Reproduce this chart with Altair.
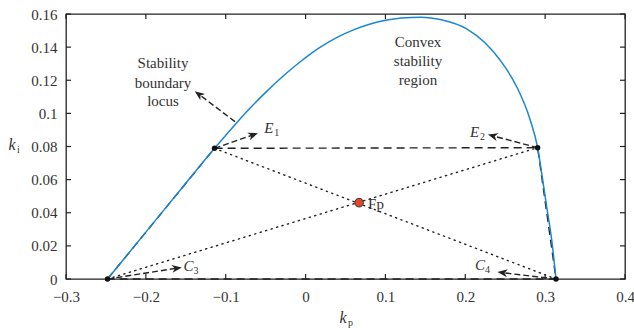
import math
import altair as alt
import pandas as pd

# ---------------- data ----------------
curve_kp = [-0.248, -0.2, -0.15, -0.114, -0.09, -0.07, -0.05, -0.028, -0.007, 0.018,
            0.04, 0.06, 0.08, 0.10, 0.12, 0.145, 0.17, 0.2017, 0.225, 0.2435,
            0.2644, 0.281, 0.2906, 0.2957, 0.3019, 0.3082, 0.3136]
curve_ki = [0.0, 0.0283, 0.0578, 0.0789, 0.0923, 0.1029, 0.1127, 0.1226, 0.1310, 0.1398,
            0.1460, 0.1504, 0.1538, 0.1562, 0.1576, 0.1581, 0.1565, 0.1510, 0.1425, 0.1322,
            0.1161, 0.0965, 0.0793, 0.0638, 0.0437, 0.0236, 0.0]

vert_names = ["C3", "E1", "E2", "C4"]
vert_kp = [-0.248, -0.114, 0.2906, 0.3136]
vert_ki = [0.0, 0.0789, 0.0793, 0.0]

fp_kp = [0.067]
fp_ki = [0.0461]

# arrows: tail -> head
arrow_tail_kp = [-0.0884, -0.114, 0.2906, -0.248, 0.3136]
arrow_tail_ki = [0.0950, 0.0789, 0.0793, 0.0, 0.0]
arrow_head_kp = [-0.1335, -0.0658, 0.2347, -0.1614, 0.2468]
arrow_head_ki = [0.1115, 0.0870, 0.0864, 0.0065, 0.0038]

# labels with subscripts
sub_main = ["E", "E", "C", "C"]
sub_idx = ["1", "2", "3", "4"]
sub_kp = [-0.0516, 0.2059, -0.153, 0.2121]
sub_ki = [0.0912, 0.0890, 0.0079, 0.0085]

note_lines = ["Stability", "boundary", "locus", "Convex", "stability", "region"]
note_kp = [-0.1785, -0.1785, -0.1785, 0.1408, 0.1408, 0.1408]
note_ki = [0.1305, 0.1185, 0.1075, 0.1431, 0.1316, 0.1202]

x_ticks = [-0.3, -0.2, -0.1, 0.0, 0.1, 0.2, 0.3, 0.4]
y_ticks = [0.0, 0.02, 0.04, 0.06, 0.08, 0.1, 0.12, 0.14, 0.16]

# ---------------- layout ----------------
W, H = 559, 265
X0, X1 = -0.3, 0.4
Y0, Y1 = 0.0, 0.16
SX = W / (X1 - X0)
SY = H / (Y1 - Y0)
FONT = "Liberation Serif"
TXT = "#333333"

xs = alt.Scale(domain=[X0, X1], nice=False, zero=False)
ys = alt.Scale(domain=[Y0, Y1], nice=False, zero=False)

x_axis = alt.Axis(values=x_ticks, title=None, ticks=False, domain=False,
                  grid=False, labelFont=FONT, labelFontSize=15, labelColor=TXT,
                  labelPadding=10, labelOverlap=False, labelFlush=False,
                  labelExpr="datum.value < 0 ? '\u2212' + format(-datum.value, '~g') : format(datum.value, '~g')")
y_axis = alt.Axis(values=y_ticks, format="~g", title=None, ticks=False, domain=False,
                  grid=False, labelFont=FONT, labelFontSize=15, labelColor=TXT,
                  labelPadding=9, labelOverlap=False, labelFlush=False)

X = lambda: alt.X("kp:Q", scale=xs, axis=x_axis)
Y = lambda: alt.Y("ki:Q", scale=ys, axis=y_axis)

# curve
curve_df = pd.DataFrame({"kp": curve_kp, "ki": curve_ki, "i": range(len(curve_kp))})
curve = alt.Chart(curve_df).mark_line(color="#1a86d0", strokeWidth=1.5, interpolate="monotone").encode(
    x=X(), y=Y(), order="i:Q")

# dashed quadrilateral
quad_order = [0, 1, 2, 3, 0]
quad_df = pd.DataFrame({"kp": [vert_kp[k] for k in quad_order],
                        "ki": [vert_ki[k] for k in quad_order],
                        "i": range(5)})
quad = alt.Chart(quad_df).mark_line(color="#222222", strokeWidth=1.4, strokeDash=[8, 5]).encode(
    x=X(), y=Y(), order="i:Q")

# dotted diagonals
diag_df = pd.DataFrame({
    "kp": [vert_kp[0], vert_kp[2], vert_kp[1], vert_kp[3]],
    "ki": [vert_ki[0], vert_ki[2], vert_ki[1], vert_ki[3]],
    "g": ["a", "a", "b", "b"], "i": [0, 1, 0, 1]})
diag = alt.Chart(diag_df).mark_line(color="#222222", strokeWidth=1.4, strokeDash=[1.2, 4.5],
                                    strokeCap="round").encode(
    x=X(), y=Y(), detail="g:N", order="i:Q")

# arrows
arr_rows = []
head_rows = []
for j in range(len(arrow_tail_kp)):
    arr_rows.append({"kp": arrow_tail_kp[j], "ki": arrow_tail_ki[j], "g": j, "i": 0})
    arr_rows.append({"kp": arrow_head_kp[j], "ki": arrow_head_ki[j], "g": j, "i": 1})
    dx = (arrow_head_kp[j] - arrow_tail_kp[j]) * SX
    dy = -(arrow_head_ki[j] - arrow_tail_ki[j]) * SY
    ang = math.degrees(math.atan2(dx, -dy)) % 360
    head_rows.append({"kp": arrow_head_kp[j], "ki": arrow_head_ki[j], "ang": ang})
arr_df = pd.DataFrame(arr_rows)
head_df = pd.DataFrame(head_rows)
arr_lines = alt.Chart(arr_df).mark_line(color="#222222", strokeWidth=1.4, strokeDash=[6, 3]).encode(
    x=X(), y=Y(), detail="g:N", order="i:Q")
arr_heads = alt.Chart(head_df).mark_point(
    shape="M0,-1L0.75,0.9L0,0.35L-0.75,0.9Z", filled=True, color="#222222", opacity=1, size=110
).encode(x=X(), y=Y(), angle=alt.Angle("ang:Q", scale=None))

# vertices
vert_df = pd.DataFrame({"kp": vert_kp, "ki": vert_ki, "n": vert_names})
verts = alt.Chart(vert_df).mark_point(filled=True, color="#111111", opacity=1, size=30).encode(
    x=X(), y=Y())

# Fp
fp_df = pd.DataFrame({"kp": fp_kp, "ki": fp_ki})
fp = alt.Chart(fp_df).mark_point(filled=True, fill="#e8442a", stroke="#333333", strokeWidth=1,
                                 opacity=1, size=75).encode(x=X(), y=Y())
fp_label = alt.Chart(fp_df).mark_text(text="Fp", font=FONT, fontSize=15, color=TXT,
                                      align="left", baseline="middle", dx=9, dy=1).encode(
    x=X(), y=Y())

# subscript labels
sub_df = pd.DataFrame({"kp": sub_kp, "ki": sub_ki, "m": sub_main, "s": sub_idx})
sub_main_t = alt.Chart(sub_df).mark_text(font=FONT, fontSize=15, fontStyle="italic", color=TXT,
                                         align="left", baseline="middle").encode(
    x=X(), y=Y(), text="m:N")
sub_idx_t = alt.Chart(sub_df).mark_text(font=FONT, fontSize=10, color=TXT,
                                        align="left", baseline="middle", dx=10, dy=5).encode(
    x=X(), y=Y(), text="s:N")

# notes
note_df = pd.DataFrame({"kp": note_kp, "ki": note_ki, "t": note_lines})
notes = alt.Chart(note_df).mark_text(font=FONT, fontSize=15, color=TXT, align="center",
                                     baseline="middle").encode(
    x=X(), y=Y(), text="t:N")

# inward ticks on all four sides
TL = 5
xt_df = pd.DataFrame({"kp": x_ticks})
yt_df = pd.DataFrame({"ki": y_ticks})
tick_style = dict(color="#222222", strokeWidth=1.2)
t_bottom = alt.Chart(xt_df).mark_rule(**tick_style).encode(
    x=X(), y=alt.value(H), y2=alt.value(H - TL))
t_top = alt.Chart(xt_df).mark_rule(**tick_style).encode(
    x=X(), y=alt.value(0), y2=alt.value(TL))
t_left = alt.Chart(yt_df).mark_rule(**tick_style).encode(
    y=Y(), x=alt.value(0), x2=alt.value(TL))
t_right = alt.Chart(yt_df).mark_rule(**tick_style).encode(
    y=Y(), x=alt.value(W), x2=alt.value(W - TL))

# axis titles with subscripts
ti_df = pd.DataFrame({"t": ["k"]})
ki_k = alt.Chart(ti_df).mark_text(font=FONT, fontSize=16, fontStyle="italic", color=TXT,
                                  align="center", baseline="middle").encode(
    x=alt.value(-54), y=alt.value(131), text="t:N")
ki_i = alt.Chart(pd.DataFrame({"t": ["i"]})).mark_text(font=FONT, fontSize=10, color=TXT,
                                                       align="left", baseline="middle").encode(
    x=alt.value(-49), y=alt.value(136), text="t:N")
kp_k = alt.Chart(ti_df).mark_text(font=FONT, fontSize=16, fontStyle="italic", color=TXT,
                                  align="center", baseline="middle").encode(
    x=alt.value(277), y=alt.value(304), text="t:N")
kp_p = alt.Chart(pd.DataFrame({"t": ["p"]})).mark_text(font=FONT, fontSize=10, color=TXT,
                                                       align="left", baseline="middle").encode(
    x=alt.value(282), y=alt.value(309), text="t:N")

chart = alt.layer(
    diag, quad, curve, arr_lines, arr_heads, verts, fp, fp_label,
    sub_main_t, sub_idx_t, notes, t_bottom, t_top, t_left, t_right,
    ki_k, ki_i, kp_k, kp_p,
).properties(
    width=W, height=H,
    padding={"left": 66, "top": 14, "right": 9, "bottom": 57},
    autosize=alt.AutoSizeParams(type="none"),
    background="white",
).configure_view(stroke="#222222", strokeWidth=1.3
).configure_axis(labelOverlap=False, labelFlush=False)

chart.save("out.html", embed_options={"renderer": "svg", "actions": False})
